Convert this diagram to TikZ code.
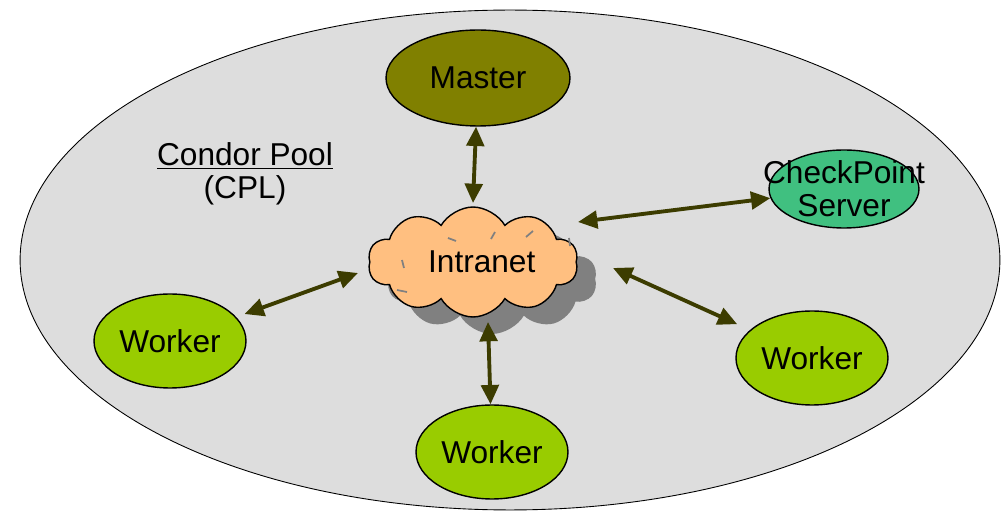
\documentclass[tikz,border=0pt]{standalone}
\usepackage{fontspec}
\setmainfont{Liberation Sans}
\usetikzlibrary{arrows.meta,shapes.geometric,shapes.symbols,shadows}

\definecolor{poolgray}{RGB}{221,221,221}
\definecolor{masterolive}{RGB}{128,128,0}
\definecolor{workergreen}{RGB}{153,204,0}
\definecolor{ckptgreen}{RGB}{64,192,128}
\definecolor{cloudpeach}{RGB}{255,191,128}
\definecolor{linkolive}{RGB}{60,60,0}

\begin{document}
\begin{tikzpicture}[x=0.02cm,y=-0.02cm,
font=\fontsize{18}{19}\selectfont,
box/.style = {ellipse, draw=black, line width=0.8pt, inner sep=0pt},
worker/.style = {box, fill=workergreen, minimum width=3.04cm, minimum height=1.88cm},
link/.style = {{Triangle[length=11pt,width=10pt]}-{Triangle[length=11pt,width=10pt]}, line width=2.2pt, draw=linkolive}]
\useasboundingbox (0,0) rectangle (1005,513);
% pool
\node[ellipse, draw=black, fill=poolgray, line width=0.5pt, minimum width=19.6cm, minimum height=10cm] (pool) at (510,260) {};
\node (pooltext) at (245,174) [align=center] {\underline{Condor Pool}\\(CPL)};
% machines
\node[box, fill=masterolive, minimum width=3.68cm, minimum height=1.92cm] (master) at (478,78) {Master};
\node[box, fill=ckptgreen, minimum width=3.0cm, minimum height=1.56cm] (ckpt) at (844,189) {};
\node[align=center, inner sep=0pt] (ckpttext) at (844,189) {CheckPoint\\Server};
\node[worker] (w1) at (170,341) {Worker};
\node[worker] (w2) at (492,452) {Worker};
\node[worker] (w3) at (812,358) {Worker};
% network
\node[cloud, cloud puffs=10, cloud puff arc=120, cloud ignores aspect, draw=black, line width=0.8pt,
  fill=cloudpeach, minimum width=4.2cm, minimum height=2.2cm, text depth=0pt,
  drop shadow={shadow xshift=0.38cm, shadow yshift=-0.34cm, fill=gray, opacity=1}]
  (intranet) at (473,262) {\hspace*{0.35cm}Intranet};
\foreach \a/\b in {{(-25,-24)}/{(-17,-21)}, {(18,-23)}/{(22,-30)}, {(53,-25)}/{(60,-31)},
  {(-71,-2)}/{(-69,6)}, {(-76,28)}/{(-66,30)}, {(96,-24)}/{(97,-16)}}
  \draw[gray, line width=1pt] ([shift={\a}]intranet.center) -- ([shift={\b}]intranet.center);
\coordinate (i-n) at ([shift={(0,-59)}]intranet.center);
\coordinate (i-ne) at ([shift={(105,-40)}]intranet.center);
\coordinate (i-w) at ([shift={(-115,11)}]intranet.center);
\coordinate (i-s) at ([shift={(15,60)}]intranet.center);
\coordinate (i-e) at ([shift={(140,6)}]intranet.center);
% links
\draw[link] (master) -- (i-n);
\draw[link] (i-ne) -- (ckpt);
\draw[link, shorten <=5pt] (w1) -- (i-w);
\draw[link] (i-s) -- (w2);
\draw[link, shorten >=8pt] (i-e) -- (w3);
\end{tikzpicture}
\end{document}
